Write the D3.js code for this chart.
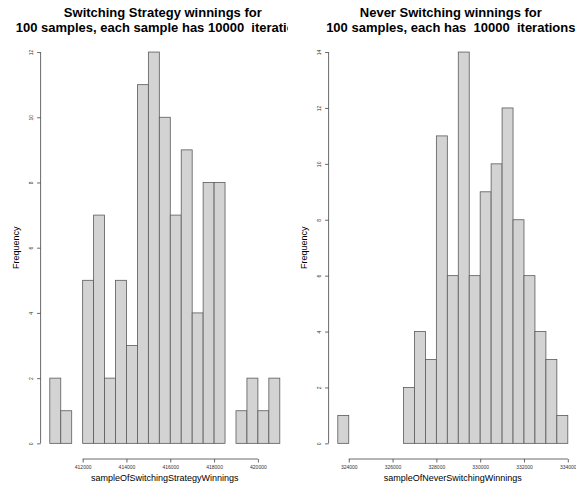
<!DOCTYPE html>
<html>
<head>
<meta charset="utf-8">
<script src="https://cdn.jsdelivr.net/npm/d3@7"></script>
<style>
  body { margin: 0; background: #fff; }
  text { font-family: "Liberation Sans", Arial, sans-serif; }
</style>
</head>
<body>
<script>
const width = 576;
const height = 487;

// bin starts (width 500) and counts
const switchBins = [410500, 411000, 411500, 412000, 412500, 413000, 413500, 414000, 414500, 415000,
    415500, 416000, 416500, 417000, 417500, 418000, 418500, 419000, 419500, 420000, 420500];
const switchCounts = [2, 1, 0, 5, 7, 2, 5, 3, 11, 12, 10, 7, 9, 4, 8, 8, 0, 1, 2, 1, 2];
const switchXTicks = [412000, 414000, 416000, 418000, 420000];
const switchYTicks = [0, 2, 4, 6, 8, 10, 12];

const neverBins = [323500, 324000, 324500, 325000, 325500, 326000, 326500, 327000, 327500, 328000,
    328500, 329000, 329500, 330000, 330500, 331000, 331500, 332000, 332500, 333000, 333500];
const neverCounts = [1, 0, 0, 0, 0, 0, 2, 4, 3, 11, 6, 14, 6, 9, 10, 12, 8, 6, 4, 3, 1];
const neverXTicks = [324000, 326000, 328000, 330000, 332000, 334000];
const neverYTicks = [0, 2, 4, 6, 8, 10, 12, 14];

const binWidth = 500;

const svg = d3.select("body").append("svg")
    .attr("width", width)
    .attr("height", height);

const panels = [
    {
        offset: 0,
        bins: switchBins, counts: switchCounts,
        xTicks: switchXTicks, yTicks: switchYTicks,
        xDomain: [410080, 421420], yDomain: [-0.48, 12.48],
        title1: "Switching Strategy winnings for",
        title2: "100 samples, each sample has 10000  iterations",
        xlab: "sampleOfSwitchingStrategyWinnings"
    },
    {
        offset: 288,
        bins: neverBins, counts: neverCounts,
        xTicks: neverXTicks, yTicks: neverYTicks,
        xDomain: [323080, 334420], yDomain: [-0.56, 14.56],
        title1: "Never Switching winnings for",
        title2: "100 samples, each has  10000  iterations",
        xlab: "sampleOfNeverSwitchingWinnings"
    }
];

panels.forEach((p, i) => {
    // each figure clips its own texts, like the R device does
    svg.append("clipPath").attr("id", "fig" + i)
        .append("rect")
        .attr("x", p.offset).attr("y", 0)
        .attr("width", 288).attr("height", height);

    const g = svg.append("g").attr("clip-path", `url(#fig${i})`);

    const x = d3.scaleLinear().domain(p.xDomain).range([p.offset + 40.6, p.offset + 289]);
    const y = d3.scaleLinear().domain(p.yDomain).range([459, 36.4]);

    // bars
    g.selectAll("rect.bar")
        .data(p.bins.map((b, j) => ({ x0: b, n: p.counts[j] })))
        .enter()
        .append("rect")
        .attr("class", "bar")
        .attr("x", d => x(d.x0))
        .attr("width", d => x(d.x0 + binWidth) - x(d.x0))
        .attr("y", d => y(d.n))
        .attr("height", d => y(0) - y(d.n))
        .attr("fill", "#d3d3d3")
        .attr("stroke", "#5a5a5a")
        .attr("stroke-width", 0.8);

    // x axis
    const xAxis = d3.axisBottom(x)
        .tickValues(p.xTicks)
        .tickSize(3.5)
        .tickPadding(3)
        .tickSizeOuter(0)
        .tickFormat(d3.format("d"));
    const gx = g.append("g")
        .attr("transform", "translate(0,459)")
        .call(xAxis);
    gx.select(".domain")
        .attr("d", `M${x(p.xTicks[0])},0H${x(p.xTicks[p.xTicks.length - 1])}`);
    gx.selectAll("line, path").attr("stroke", "#444").attr("stroke-width", 0.8);
    gx.selectAll("text").attr("font-size", 5).attr("fill", "#333");

    // y axis
    const yAxis = d3.axisLeft(y)
        .tickValues(p.yTicks)
        .tickSize(3.5)
        .tickSizeOuter(0);
    const gy = g.append("g")
        .attr("transform", `translate(${p.offset + 40.6},0)`)
        .call(yAxis);
    gy.select(".domain")
        .attr("d", `M0,${y(p.yTicks[0])}V${y(p.yTicks[p.yTicks.length - 1])}`);
    gy.selectAll("line, path").attr("stroke", "#444").attr("stroke-width", 0.8);
    gy.selectAll("text")
        .attr("font-size", 5).attr("fill", "#333")
        .attr("x", null).attr("dy", null)
        .attr("text-anchor", "middle")
        .attr("transform", "translate(-9.6,0) rotate(-90)")
        .attr("dy", "0.35em");

    // titles
    const cx = (x.range()[0] + x.range()[1]) / 2 - 2;
    g.append("text")
        .attr("x", cx).attr("y", 16.5)
        .attr("text-anchor", "middle")
        .attr("font-size", 13).attr("font-weight", "bold")
        .text(p.title1);
    g.append("text")
        .attr("x", cx).attr("y", 31.5)
        .attr("text-anchor", "middle")
        .attr("font-size", 13).attr("font-weight", "bold")
        .style("white-space", "pre")
        .text(p.title2);

    g.append("text")
        .attr("x", cx + 2).attr("y", 481)
        .attr("text-anchor", "middle")
        .attr("font-size", 9)
        .text(p.xlab);

    g.append("text")
        .attr("transform", `translate(${p.offset + 19},${(y.range()[0] + y.range()[1]) / 2}) rotate(-90)`)
        .attr("text-anchor", "middle")
        .attr("font-size", 9)
        .text("Frequency");
});
</script>
</body>
</html>
